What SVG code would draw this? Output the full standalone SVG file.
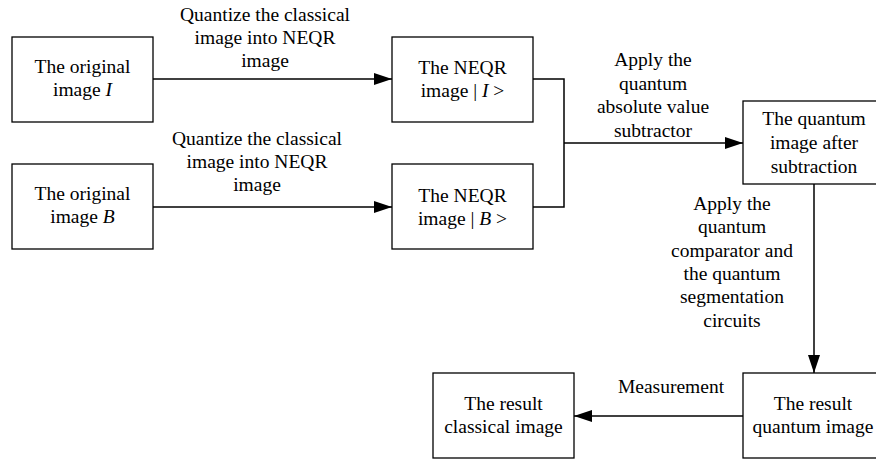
<svg xmlns="http://www.w3.org/2000/svg" width="876" height="460" viewBox="0 0 876 460">
  <style>
    text { font-family: "Liberation Serif", "Times New Roman", serif; font-size: 19.5px; fill: #000; text-anchor: middle; }
    .box { fill: #fff; stroke: #000; stroke-width: 1.3; }
    .wire { fill: none; stroke: #000; stroke-width: 1.5; }
    .it { font-style: italic; }
  </style>
  <defs>
    <marker id="arrow" viewBox="0 0 18 12" refX="18" refY="6" markerWidth="18" markerHeight="12" markerUnits="userSpaceOnUse" orient="auto">
      <path d="M0,0 L18,6 L0,12 Z" fill="#000"/>
    </marker>
  </defs>

  <rect width="876" height="460" fill="#fff"/>

  <!-- connectors -->
  <g id="connectors">
    <line class="wire" x1="153" y1="79" x2="392" y2="79" marker-end="url(#arrow)"/>
    <line class="wire" x1="153" y1="207" x2="392" y2="207" marker-end="url(#arrow)"/>
    <polyline class="wire" points="533,79 564,79 564,207 533,207"/>
    <line class="wire" x1="564" y1="143" x2="743" y2="143" marker-end="url(#arrow)"/>
    <line class="wire" x1="814" y1="184" x2="814" y2="373" marker-end="url(#arrow)"/>
    <line class="wire" x1="743" y1="416" x2="574" y2="416" marker-end="url(#arrow)"/>
  </g>

  <!-- connector labels -->
  <g id="labels">
    <text x="265" y="21">Quantize the classical</text>
    <text x="265" y="44">image into NEQR</text>
    <text x="265" y="67">image</text>

    <text x="257" y="145">Quantize the classical</text>
    <text x="257" y="168">image into NEQR</text>
    <text x="257" y="191">image</text>

    <text x="653" y="66">Apply the</text>
    <text x="653" y="89.5">quantum</text>
    <text x="653" y="113">absolute value</text>
    <text x="653" y="136.5">subtractor</text>

    <text x="732" y="210">Apply the</text>
    <text x="732" y="233.3">quantum</text>
    <text x="732" y="256.6">comparator and</text>
    <text x="732" y="280">the quantum</text>
    <text x="732" y="303.3">segmentation</text>
    <text x="732" y="326.6">circuits</text>

    <text x="671" y="393">Measurement</text>
  </g>

  <!-- nodes -->
  <g id="original-I">
    <rect class="box" x="12" y="37" width="141" height="85"/>
    <text x="82.5" y="73">The original</text>
    <text x="82.5" y="96">image <tspan class="it">I</tspan></text>
  </g>

  <g id="original-B">
    <rect class="box" x="12" y="164" width="141" height="85"/>
    <text x="82.5" y="200">The original</text>
    <text x="82.5" y="223">image <tspan class="it">B</tspan></text>
  </g>

  <g id="neqr-I">
    <rect class="box" x="392" y="37" width="141" height="85"/>
    <text x="462.5" y="74">The NEQR</text>
    <text x="462.5" y="97">image | <tspan class="it">I</tspan> &gt;</text>
  </g>

  <g id="neqr-B">
    <rect class="box" x="392" y="164" width="141" height="85"/>
    <text x="462.5" y="201.5">The NEQR</text>
    <text x="462.5" y="224.5">image | <tspan class="it">B</tspan> &gt;</text>
  </g>

  <g id="quantum-subtraction">
    <rect class="box" x="743" y="101" width="141" height="83"/>
    <text x="814" y="125.3">The quantum</text>
    <text x="814" y="149">image after</text>
    <text x="814" y="172.7">subtraction</text>
  </g>

  <g id="result-quantum">
    <rect class="box" x="743" y="373" width="141" height="85"/>
    <text x="813" y="410">The result</text>
    <text x="813" y="433">quantum image</text>
  </g>

  <g id="result-classical">
    <rect class="box" x="433" y="373" width="141" height="85"/>
    <text x="503.5" y="410">The result</text>
    <text x="503.5" y="433">classical image</text>
  </g>
</svg>
